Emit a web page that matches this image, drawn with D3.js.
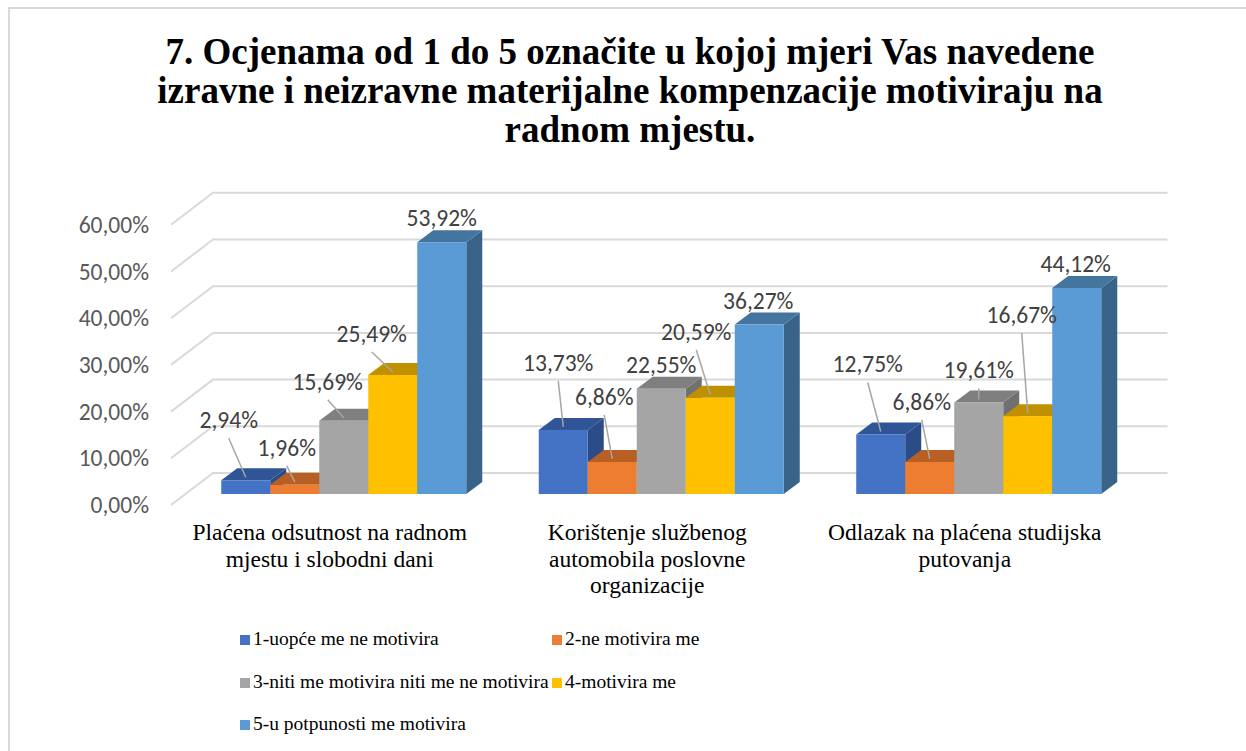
<!DOCTYPE html>
<html>
<head>
<meta charset="utf-8">
<script src="https://cdn.jsdelivr.net/npm/d3@7"></script>
</head>
<body style="margin:0">
<script>
const w = 1246;
const h = 751;

// data
const titleLines = [
  "7. Ocjenama od 1 do 5 označite u kojoj mjeri Vas navedene",
  "izravne i neizravne materijalne kompenzacije motiviraju na",
  "radnom mjestu."
];
const categories = [
  ["Plaćena odsutnost na radnom", "mjestu i slobodni dani"],
  ["Korištenje službenog", "automobila poslovne", "organizacije"],
  ["Odlazak na plaćena studijska", "putovanja"]
];
const seriesNames = [
  "1-uopće me ne motivira",
  "2-ne motivira me",
  "3-niti me motivira niti me ne motivira",
  "4-motivira me",
  "5-u potpunosti me motivira"
];
const values = [
  [2.94, 1.96, 15.69, 25.49, 53.92],
  [13.73, 6.86, 22.55, 20.59, 36.27],
  [12.75, 6.86, 19.61, 16.67, 44.12]
];
const yTicks = [0, 10, 20, 30, 40, 50, 60];

// label nudges (moved by hand in the original), px from the bar top
const labelNudge = [
  [[-17, -57], [-8, -34], [-16, -36], [-21, -38], [0, -21]],
  [[-5, -64], [-8, -62], [0, -21], [-14, -63], [-1, -21]],
  [[-13, -67], [-8, -57], [0, -29], [-6, -98], [-1, -21]]
];

const colors = ["#4472C4", "#ED7D31", "#A5A5A5", "#FFC000", "#5B9BD5"];
const tops   = ["#2F5597", "#B85F23", "#7F7F7F", "#BF9000", "#44759F"];
const sides  = ["#2B4C87", "#A3541F", "#707070", "#A67D00", "#3A6389"];

const SERIF = "'Liberation Serif'";
const SANS = "'Carlito'";

var svg = d3.select("body")
            .append("svg")
            .attr("width", w)
            .attr("height", h);

// outer border
svg.append("rect")
   .attr("x", 9).attr("y", 8)
   .attr("width", w).attr("height", h)
   .attr("fill", "none")
   .attr("stroke", "#d9d9d9")
   .attr("stroke-width", 2);

function addText(g, x, y, txt, fam, size) {
  return g.append("text")
          .attr("x", x).attr("y", y)
          .style("font-family", fam)
          .style("font-size", size + "px")
          .text(txt);
}

// title
var title = svg.append("g")
   .attr("text-anchor", "middle")
   .attr("fill", "#000");
titleLines.forEach(function(t, i) {
  addText(title, 630, 63.5 + i * 39, t, SERIF, 37).style("font-weight", "bold");
});

// 3d layout
const depth = [16, -12];        // bar depth
const back = [28, -21];         // bar plane -> back wall
const front = [-14, 11];        // bar plane -> front edge

var x = d3.scaleBand()
          .domain(d3.range(categories.length))
          .range([185, 1137.5])
          .paddingInner(0.2283)
          .paddingOuter(0.1142);

var xs = d3.scaleBand()
           .domain(d3.range(seriesNames.length))
           .range([0, x.bandwidth()]);

var y = d3.scaleLinear()
          .domain([0, 60])
          .range([494, 494 - 280.2]);

var fmt = function(v) { return d3.format(".2f")(v).replace(".", ",") + "%"; };

// gridlines: diagonal on the left side wall, horizontal on the back wall
var grid = svg.append("g")
   .attr("stroke", "#d9d9d9")
   .attr("stroke-width", 2)
   .attr("fill", "none");

grid.selectAll("path")
    .data(yTicks)
    .enter()
    .append("path")
    .attr("d", function(d) {
      var x0 = x.range()[0], x1 = x.range()[1];
      return "M" + (x0 + front[0]) + "," + (y(d) + front[1]) +
             "L" + (x0 + back[0]) + "," + (y(d) + back[1]) +
             "L" + (x1 + back[0] + 2) + "," + (y(d) + back[1]);
    });

// y axis labels
var yAxis = svg.append("g")
   .attr("fill", "#595959")
   .attr("text-anchor", "end");
yTicks.forEach(function(t) {
  addText(yAxis, 149, y(t) + front[1] + 8, fmt(t), SANS, 23.5);
});

// bars
var bars = svg.append("g");
values.forEach(function(row, ci) {
  row.forEach(function(v, si) {
    var bx = x(ci) + xs(si), bw = xs.bandwidth();
    var by = y(v), b0 = y(0);
    // side
    bars.append("path")
        .attr("d", "M" + (bx + bw) + "," + b0 +
                   "L" + (bx + bw + depth[0]) + "," + (b0 + depth[1]) +
                   "L" + (bx + bw + depth[0]) + "," + (by + depth[1]) +
                   "L" + (bx + bw) + "," + by + "Z")
        .attr("fill", sides[si]);
    // top
    bars.append("path")
        .attr("d", "M" + bx + "," + by +
                   "L" + (bx + depth[0]) + "," + (by + depth[1]) +
                   "L" + (bx + bw + depth[0]) + "," + (by + depth[1]) +
                   "L" + (bx + bw) + "," + by + "Z")
        .attr("fill", tops[si]);
    // front
    bars.append("rect")
        .attr("x", bx).attr("y", by)
        .attr("width", bw).attr("height", b0 - by)
        .attr("fill", colors[si]);
  });
});

// data labels with leader lines
var labels = svg.append("g")
   .attr("fill", "#404040")
   .attr("text-anchor", "middle");
values.forEach(function(row, ci) {
  row.forEach(function(v, si) {
    var ax = x(ci) + xs(si) + xs.bandwidth() / 2;
    var ay = y(v) - 3;
    var n = labelNudge[ci][si];
    var lx = ax + n[0], ly = ay + n[1];
    if (n[1] < -25) {
      labels.append("line")
            .attr("x1", lx).attr("y1", ly + 18)
            .attr("x2", ax).attr("y2", ay)
            .attr("stroke", "#a6a6a6")
            .attr("stroke-width", 1.5);
    }
    addText(labels, lx, ly + 8, fmt(v), SANS, 23.5);
  });
});

// category labels
var cats = svg.append("g")
   .attr("fill", "#000")
   .attr("text-anchor", "middle");
categories.forEach(function(lines, ci) {
  lines.forEach(function(t, li) {
    addText(cats, x(ci) + x.bandwidth() / 2 + front[0], 540 + li * 26.5, t, SERIF, 23.5);
  });
});

// legend
var legendPos = [[240, 645], [552, 645], [240, 688], [552, 688], [240, 730]];
var legend = svg.append("g")
   .attr("fill", "#000");
seriesNames.forEach(function(s, i) {
  var p = legendPos[i];
  legend.append("rect")
        .attr("x", p[0]).attr("y", p[1] - 10)
        .attr("width", 10).attr("height", 10)
        .attr("fill", colors[i]);
  addText(legend, p[0] + 13, p[1], s, SERIF, 19.5);
});
</script>
</body>
</html>
